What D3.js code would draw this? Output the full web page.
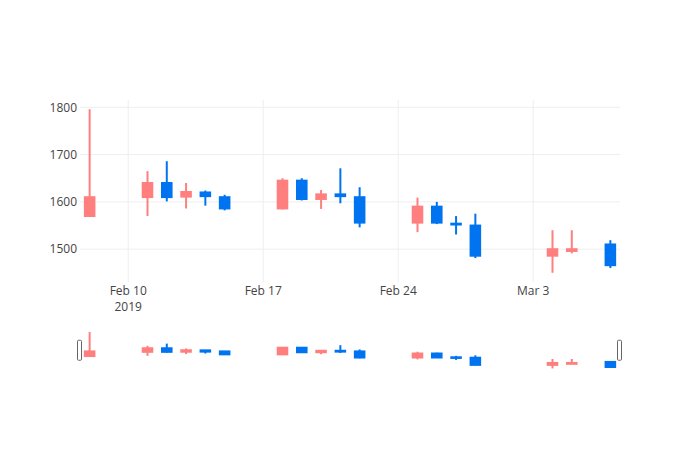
<!DOCTYPE html>
<html>
<head>
<meta charset="utf-8">
<script src="https://cdn.jsdelivr.net/npm/d3@7"></script>
<style>
  body { margin: 0; background: #fff; }
  svg text { font-family: "Open Sans", sans-serif; font-size: 12px; fill: #444; }
</style>
</head>
<body>
<div id="chart"></div>
<script>
// daily prices, Feb 8 - Mar 7 2019
const dates = ["2019-02-08", "2019-02-11", "2019-02-12", "2019-02-13", "2019-02-14", "2019-02-15",
  "2019-02-18", "2019-02-19", "2019-02-20", "2019-02-21", "2019-02-22",
  "2019-02-25", "2019-02-26", "2019-02-27", "2019-02-28",
  "2019-03-04", "2019-03-05", "2019-03-07"];
const open  = [1568, 1608, 1642, 1609, 1622, 1612, 1584, 1647, 1604, 1618, 1612, 1554, 1592, 1556, 1552, 1484, 1494, 1512];
const high  = [1796, 1665, 1686, 1640, 1624, 1615, 1650, 1650, 1625, 1671, 1631, 1609, 1600, 1570, 1575, 1540, 1540, 1519];
const low   = [1568, 1570, 1601, 1586, 1592, 1582, 1584, 1603, 1585, 1597, 1546, 1536, 1553, 1531, 1481, 1450, 1491, 1460];
const close = [1612, 1642, 1608, 1623, 1610, 1584, 1647, 1604, 1618, 1610, 1554, 1592, 1554, 1550, 1484, 1502, 1502, 1464];

const yTicks = [1500, 1600, 1700, 1800];
const xTicks = ["2019-02-10", "2019-02-17", "2019-02-24", "2019-03-03"];
const xTickLabels = ["Feb 10", "Feb 17", "Feb 24", "Mar 3"];

const upColor = "#ff7f7f";
const downColor = "#0074f0";

const width = 700, height = 450;
const margin = {left: 80, right: 80, top: 100};
const plotBottom = 282;
const slider = {top: 330, bottom: 370.5};
const DAY = 864e5;

const parse = d3.utcParse("%Y-%m-%d");
const data = dates.map((d, i) => ({
  date: parse(d), open: open[i], high: high[i], low: low[i], close: close[i]
}));

const svg = d3.select("#chart").append("svg")
    .attr("width", width)
    .attr("height", height);

const x = d3.scaleUtc()
    .domain([new Date(parse(dates[0]) - DAY / 2), new Date(+parse(dates[dates.length - 1]) + DAY / 2)])
    .range([margin.left, width - margin.right]);

const yDomain = [1430.5, 1815.5];
const y = d3.scaleLinear().domain(yDomain).range([plotBottom, margin.top]);
const ySlider = d3.scaleLinear().domain(yDomain).range([slider.bottom, slider.top]);

// grid
svg.append("g")
  .selectAll("line")
  .data(yTicks)
  .join("line")
    .attr("x1", margin.left).attr("x2", width - margin.right)
    .attr("y1", d => y(d)).attr("y2", d => y(d))
    .attr("stroke", "#eee");

svg.append("g")
  .selectAll("line")
  .data(xTicks)
  .join("line")
    .attr("x1", d => x(parse(d))).attr("x2", d => x(parse(d)))
    .attr("y1", margin.top).attr("y2", plotBottom)
    .attr("stroke", "#eee");

// y tick labels
svg.append("g")
  .selectAll("text")
  .data(yTicks)
  .join("text")
    .attr("x", 77)
    .attr("y", d => y(d) + 4.2)
    .attr("text-anchor", "end")
    .text(d => d);

// x tick labels
svg.append("g")
  .selectAll("text")
  .data(xTicks)
  .join("text")
    .attr("x", d => x(parse(d)))
    .attr("y", 295)
    .attr("text-anchor", "middle")
    .text((d, i) => xTickLabels[i]);

svg.append("text")
    .attr("x", x(parse(xTicks[0])))
    .attr("y", 311)
    .attr("text-anchor", "middle")
    .text("2019");

// pad = extra pixels above/below each body (stroke look in the slider)
function drawCandles(g, yScale, pad) {
  const half = DAY * 0.3;
  const c = g.selectAll("g")
    .data(data)
    .join("g")
      .attr("fill", d => d.close >= d.open ? upColor : downColor)
      .attr("stroke", d => d.close >= d.open ? upColor : downColor);

  c.append("line")
      .attr("x1", d => x(d.date)).attr("x2", d => x(d.date))
      .attr("y1", d => yScale(d.high)).attr("y2", d => yScale(d.low))
      .attr("stroke-width", 2);

  c.append("rect")
      .attr("x", d => x(new Date(+d.date - half)))
      .attr("width", d => x(new Date(+d.date + half)) - x(new Date(+d.date - half)))
      .attr("y", d => {
        const top = yScale(Math.max(d.open, d.close)) - pad, bot = yScale(Math.min(d.open, d.close)) + pad;
        return bot - top < 2 ? (top + bot) / 2 - 1 : top;
      })
      .attr("height", d => Math.max(2, yScale(Math.min(d.open, d.close)) - yScale(Math.max(d.open, d.close)) + 2 * pad))
      .attr("stroke", "none");
}

drawCandles(svg.append("g"), y, 0);

// range slider
const sg = svg.append("g");
sg.append("rect")
    .attr("x", margin.left).attr("y", slider.top)
    .attr("width", width - margin.left - margin.right)
    .attr("height", slider.bottom - slider.top)
    .attr("fill", "#fff");
drawCandles(sg.append("g"), ySlider, 1);

const mid = (slider.top + slider.bottom) / 2;
sg.selectAll(".grab")
  .data(x.range())
  .join("rect")
    .attr("class", "grab")
    .attr("x", d => d - 2.5)
    .attr("y", mid - 10)
    .attr("width", 4)
    .attr("height", 20)
    .attr("rx", 1)
    .attr("fill", "#fff")
    .attr("stroke", "#666");
</script>
</body>
</html>
